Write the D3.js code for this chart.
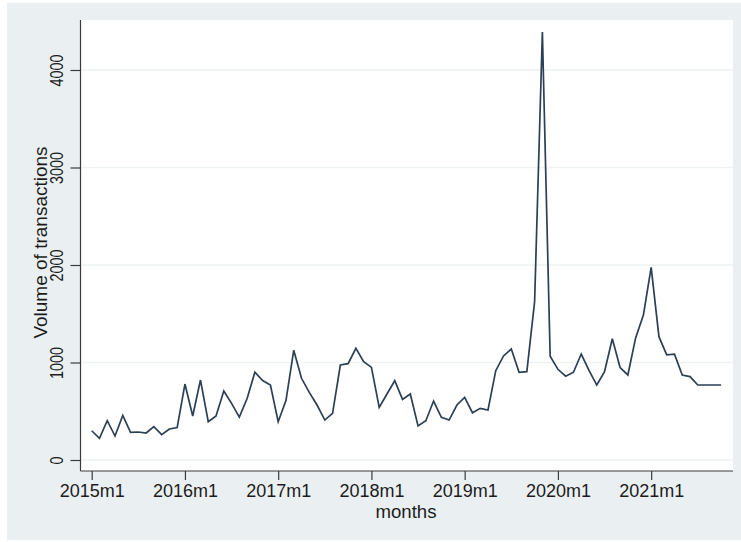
<!DOCTYPE html>
<html>
<head>
<meta charset="utf-8">
<script src="https://cdn.jsdelivr.net/npm/d3@7"></script>
<style>
  html, body { margin: 0; padding: 0; background: #ffffff; }
  svg { display: block; }
  text { font-family: "Liberation Sans", Arial, sans-serif; fill: #1c1c1c; }
</style>
</head>
<body>
<svg id="chart" width="741" height="542"></svg>
<script>
// Monthly volume of transactions, 2015m1 .. 2021m10
const startYear = 2015;
const volumes = [
  300, 222, 403, 246, 458, 284, 287, 277, 342, 260, 318, 332,
  779, 451, 820, 393, 451, 708, 581, 440, 630, 900, 815, 769,
  393, 610, 1125, 838, 694, 564, 410, 479, 974, 988, 1145, 1009,
  950, 540, 677, 813, 622, 677, 349, 403, 605, 438, 410, 564,
  643, 485, 530, 513, 916, 1067, 1138, 899, 906, 1624, 4390, 1065,
  930, 860, 900, 1087, 920, 769, 906, 1244, 948, 872, 1252, 1487,
  1975, 1265, 1078, 1085, 872, 855, 769, 769, 769, 769
];
const xTickMonths = [0, 12, 24, 36, 48, 60, 72];
const xTickLabels = ["2015m1", "2016m1", "2017m1", "2018m1", "2019m1", "2020m1", "2021m1"];
const yTicks = [0, 1000, 2000, 3000, 4000];
const xTitle = "months";
const yTitle = "Volume of transactions";

const svg = d3.select("#chart");

// graph region background
svg.append("rect")
  .attr("x", 7).attr("y", 3).attr("width", 734).attr("height", 537)
  .attr("fill", "#eaf0f2");

// plot region
const plot = { left: 80.5, right: 733, top: 20, bottom: 471 };
svg.append("rect")
  .attr("x", plot.left).attr("y", plot.top)
  .attr("width", plot.right - plot.left).attr("height", plot.bottom - plot.top)
  .attr("fill", "#ffffff");

const x = d3.scaleLinear().domain([0, volumes.length - 1]).range([91.7, 721.1]);
const y = d3.scaleLinear().domain([0, 4000]).range([460, 70]);

// horizontal grid lines
svg.append("g")
  .selectAll("line")
  .data(yTicks)
  .join("line")
  .attr("x1", plot.left).attr("x2", plot.right)
  .attr("y1", d => y(d)).attr("y2", d => y(d))
  .attr("stroke", "#eef2f3").attr("stroke-width", 1.6);

// y axis
const yAxis = svg.append("g")
  .attr("transform", `translate(${plot.left},0)`)
  .call(d3.axisLeft(y).tickValues(yTicks).tickSize(10).tickSizeOuter(0).tickFormat(d3.format("d")));
yAxis.select(".domain").remove();
yAxis.append("line")
  .attr("x1", 0).attr("x2", 0).attr("y1", plot.top).attr("y2", plot.bottom)
  .attr("stroke", "#3a3a3a").attr("stroke-width", 1.2);
yAxis.selectAll(".tick line").attr("stroke", "#3a3a3a").attr("stroke-width", 1.2);
yAxis.selectAll(".tick text")
  .attr("x", null).attr("dy", null)
  .attr("text-anchor", "middle")
  .attr("transform", "translate(-17.5,0) rotate(-90) scale(0.8,1)")
  .style("font-size", "18px").style("fill", "#1c1c1c");

// x axis
const xAxis = svg.append("g")
  .attr("transform", `translate(0,${plot.bottom})`)
  .call(d3.axisBottom(x).tickValues(xTickMonths).tickSize(9).tickSizeOuter(0)
    .tickFormat((d, i) => xTickLabels[i]));
xAxis.select(".domain").remove();
xAxis.append("line")
  .attr("x1", plot.left).attr("x2", plot.right).attr("y1", 0).attr("y2", 0)
  .attr("stroke", "#3a3a3a").attr("stroke-width", 1.2);
xAxis.selectAll(".tick line").attr("stroke", "#3a3a3a").attr("stroke-width", 1.2);
xAxis.selectAll(".tick text")
  .attr("y", 26).attr("dy", null)
  .style("font-size", "18px").style("fill", "#1c1c1c");

// axis titles
svg.append("text")
  .attr("x", 406).attr("y", 518)
  .attr("text-anchor", "middle")
  .style("font-size", "17.5px")
  .attr("textLength", 61).attr("lengthAdjust", "spacingAndGlyphs")
  .text(xTitle);

svg.append("text")
  .attr("transform", "translate(46.5,242.5) rotate(-90)")
  .attr("text-anchor", "middle")
  .style("font-size", "19px")
  .text(yTitle);

// series line
const line = d3.line()
  .x((d, i) => x(i))
  .y(d => y(d));

svg.append("path")
  .datum(volumes)
  .attr("d", line)
  .attr("fill", "none")
  .attr("stroke", "#2b3f55")
  .attr("stroke-width", 1.7)
  .attr("stroke-linejoin", "miter");
</script>
</body>
</html>
